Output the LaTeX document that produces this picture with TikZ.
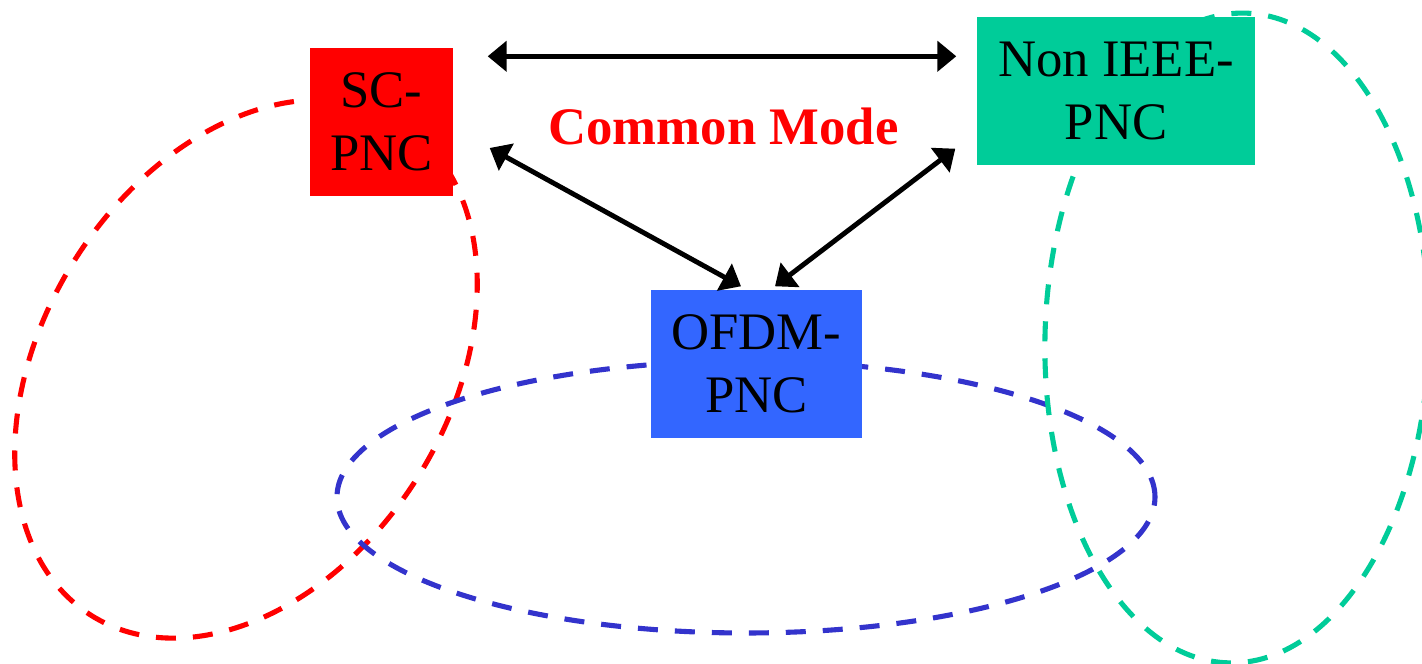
\documentclass[tikz,border=0pt]{standalone}
\usepackage{fontspec}
\setmainfont{Liberation Serif}
\usepackage{tikz}
\usepackage{xcolor}
\usetikzlibrary{arrows.meta}

\definecolor{scred}{HTML}{FF0000}
\definecolor{pncteal}{HTML}{00CC99}
\definecolor{ofdmblue}{HTML}{3366FF}
\definecolor{zoneblue}{HTML}{3333CC}

\begin{document}
\begin{tikzpicture}[
    box/.style={inner sep=0pt, minimum height=1.48cm, align=center,
                font=\fontsize{15}{18}\selectfont},
    link/.style={line width=1.4pt, {Triangle[length=0.19cm,width=0.3cm]}-{Triangle[length=0.19cm,width=0.3cm]}},
    zone/.style={line width=1.45pt, dash pattern=on 0.2cm off 0.17cm}]
                \useasboundingbox (0,0) rectangle (14.22,6.64);
                % groups
                \draw[zone, scred] (2.46,2.95) ellipse[x radius=2.91cm, y radius=2.03cm, rotate=57.9];
                \draw[zone, zoneblue] (7.46,1.67) ellipse[x radius=4.09cm, y radius=1.36cm];
                \draw[zone, pncteal] (12.37,3.26) ellipse[x radius=1.92cm, y radius=3.25cm, rotate=-1.5];
                % modes
                \node[box, fill=scred, minimum width=1.43cm] (sc) at (3.815,5.42) {SC-\\PNC};
                \node[box, fill=pncteal, minimum width=2.78cm] (nonieee) at (11.16,5.73) {Non IEEE-\\PNC};
                \node[box, fill=ofdmblue, minimum width=2.11cm] (ofdm) at (7.565,3.00) {OFDM-\\PNC};
                \node[anchor=base, text=scred, font=\fontsize{15}{18}\selectfont\bfseries] (mode) at (7.235,5.19) {Common Mode};
                \draw[link] ([xshift=0.34cm,yshift=-0.09cm]sc.north east) -- ([xshift=-0.2cm,yshift=-0.4cm]nonieee.north west);
                \draw[link] ([xshift=0.36cm,yshift=-0.26cm]sc.east) -- ([xshift=-0.155cm,yshift=0.03cm]ofdm.north);
                \draw[link] ([xshift=-0.21cm,yshift=0.17cm]nonieee.south west) -- ([xshift=0.185cm,yshift=0.03cm]ofdm.north);
            \end{tikzpicture}
\end{document}
